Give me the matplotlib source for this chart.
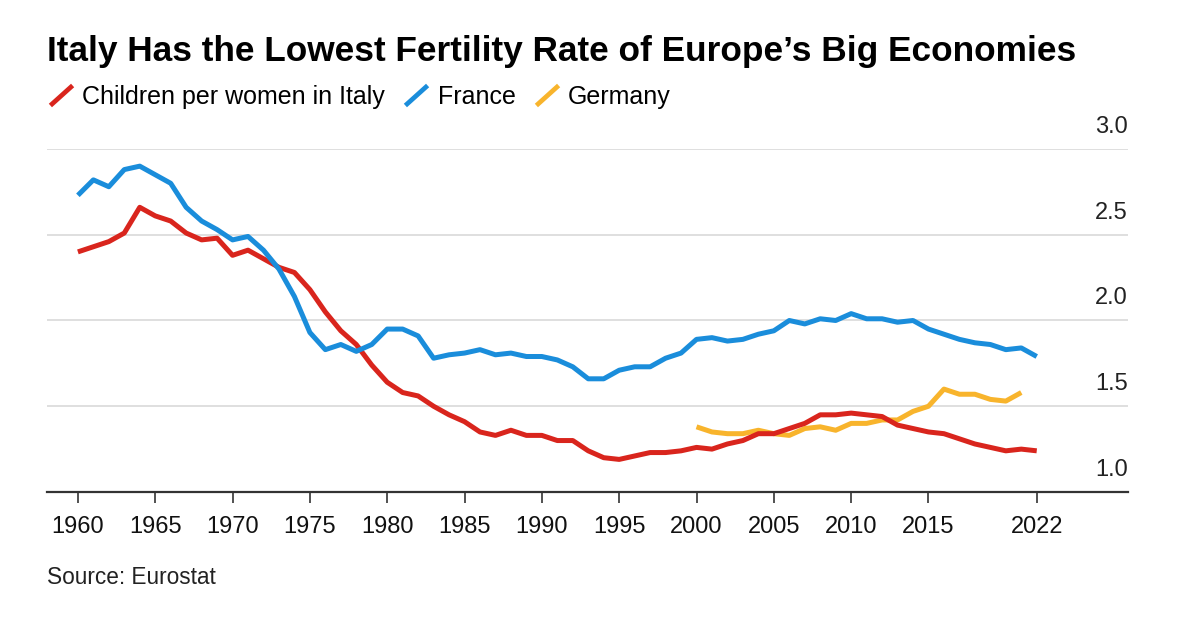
import numpy as np
import matplotlib.pyplot as plt
from matplotlib.lines import Line2D
from matplotlib.transforms import offset_copy

plt.rcParams['font.family'] = ['Liberation Sans', 'DejaVu Sans']

years = np.arange(1960, 2023)
italy = [2.40, 2.43, 2.46, 2.51, 2.66, 2.61, 2.58, 2.51, 2.47, 2.48,
         2.38, 2.41, 2.36, 2.31, 2.28, 2.18, 2.05, 1.94, 1.86, 1.74,
         1.64, 1.58, 1.56, 1.50, 1.45, 1.41, 1.35, 1.33, 1.36, 1.33,
         1.33, 1.30, 1.30, 1.24, 1.20, 1.19, 1.21, 1.23, 1.23, 1.24,
         1.26, 1.25, 1.28, 1.30, 1.34, 1.34, 1.37, 1.40, 1.45, 1.45,
         1.46, 1.45, 1.44, 1.39, 1.37, 1.35, 1.34, 1.31, 1.28, 1.26,
         1.24, 1.25, 1.24]
france = [2.73, 2.82, 2.78, 2.88, 2.90, 2.85, 2.80, 2.66, 2.58, 2.53,
          2.47, 2.49, 2.41, 2.30, 2.14, 1.93, 1.83, 1.86, 1.82, 1.86,
          1.95, 1.95, 1.91, 1.78, 1.80, 1.81, 1.83, 1.80, 1.81, 1.79,
          1.79, 1.77, 1.73, 1.66, 1.66, 1.71, 1.73, 1.73, 1.78, 1.81,
          1.89, 1.90, 1.88, 1.89, 1.92, 1.94, 2.00, 1.98, 2.01, 2.00,
          2.04, 2.01, 2.01, 1.99, 2.00, 1.95, 1.92, 1.89, 1.87, 1.86,
          1.83, 1.84, 1.79]
germany_years = np.arange(2000, 2022)
germany = [1.38, 1.35, 1.34, 1.34, 1.36, 1.34, 1.33, 1.37, 1.38, 1.36,
           1.40, 1.40, 1.42, 1.42, 1.47, 1.50, 1.60, 1.57, 1.57, 1.54,
           1.53, 1.58]

xticks = [1960, 1965, 1970, 1975, 1980, 1985, 1990, 1995, 2000, 2005, 2010, 2015, 2022]
yticks = [1.0, 1.5, 2.0, 2.5, 3.0]

red = '#d9251d'
blue = '#1a8ddb'
yellow = '#f8b42c'

fig = plt.figure(figsize=(11.83, 6.18), dpi=100)
ax = fig.add_axes([0.0397, 0.2039, 0.9138, 0.555])

ax.plot(years, italy, color=red, lw=3.6, solid_capstyle='butt', zorder=3)
ax.plot(years, france, color=blue, lw=3.6, solid_capstyle='butt', zorder=3)
ax.plot(germany_years, germany, color=yellow, lw=3.6, solid_capstyle='butt', zorder=2)

ax.set_xlim(1958.0, 2027.9)
ax.set_ylim(1.0, 3.0)

for s in ['top', 'right', 'left']:
    ax.spines[s].set_visible(False)
ax.spines['bottom'].set_color('#333333')
ax.spines['bottom'].set_linewidth(1.6)

ax.set_yticks(yticks)
ax.yaxis.grid(True, color='#dcdcdc', lw=1.3)
ax.set_axisbelow(True)
ax.tick_params(axis='y', length=0, labelleft=False)
ylab_tr = offset_copy(ax.get_yaxis_transform(), fig=fig, x=0, y=11, units='dots')
for v in yticks:
    ax.text(1.0, v, f'{v:.1f}', transform=ylab_tr,
            ha='right', va='bottom', fontsize=17, color='#222222')

ax.set_xticks(xticks)
ax.set_xticklabels([str(t) for t in xticks])
ax.tick_params(axis='x', length=8, width=1.2, color='#333333', pad=9,
               labelsize=17, labelcolor='#111111')

fig.text(0.0397, 0.902, 'Italy Has the Lowest Fertility Rate of Europe\u2019s Big Economies',
         fontsize=25.4, fontweight='bold', ha='left', va='baseline', color='#000000')

slash = [(-1, -0.9), (1, 0.9)]
handles = [Line2D([], [], ls='none', marker=slash, markersize=16, mew=3.4, mec=c)
           for c in (red, blue, yellow)]
fig.legend(handles, ['Children per women in Italy', 'France', 'Germany'],
           loc='center left', bbox_to_anchor=(0.0406, 0.843), ncol=3, frameon=False,
           fontsize=18, handlelength=1.0, handletextpad=0.36, columnspacing=0.75,
           borderaxespad=0, borderpad=0)

fig.text(0.0397, 0.055, 'Source: Eurostat', fontsize=16.3, ha='left', va='baseline',
         color='#222222')

fig.savefig('out.png', dpi=100)
